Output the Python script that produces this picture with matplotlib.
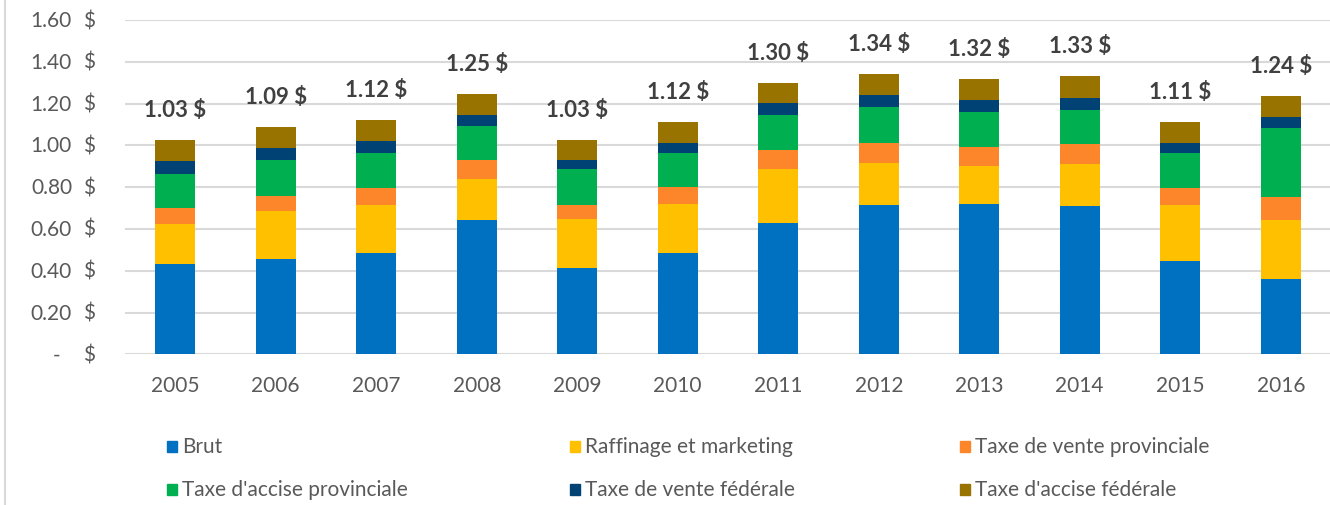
import matplotlib
matplotlib.use("Agg")
import matplotlib.pyplot as plt
import matplotlib.transforms as mtransforms
from matplotlib.patches import Rectangle
from matplotlib.lines import Line2D
import numpy as np

plt.rcParams['font.family'] = ['Lato', 'DejaVu Sans']

# data ($ per litre)
years = ['2005', '2006', '2007', '2008', '2009', '2010',
         '2011', '2012', '2013', '2014', '2015', '2016']
brut = [0.430, 0.457, 0.485, 0.643, 0.414, 0.483, 0.627, 0.716, 0.721, 0.710, 0.446, 0.362]
raffinage = [0.195, 0.229, 0.229, 0.196, 0.233, 0.238, 0.260, 0.201, 0.180, 0.201, 0.268, 0.281]
taxe_vente_prov = [0.075, 0.071, 0.082, 0.089, 0.069, 0.079, 0.089, 0.095, 0.091, 0.095, 0.082, 0.111]
taxe_accise_prov = [0.164, 0.171, 0.169, 0.164, 0.171, 0.165, 0.169, 0.170, 0.167, 0.164, 0.169, 0.327]
taxe_vente_fed = [0.062, 0.058, 0.057, 0.053, 0.041, 0.047, 0.057, 0.057, 0.059, 0.058, 0.047, 0.053]
taxe_accise_fed = [0.100, 0.102, 0.100, 0.099, 0.099, 0.101, 0.095, 0.101, 0.101, 0.102, 0.101, 0.100]
totals = [1.03, 1.09, 1.12, 1.25, 1.03, 1.12, 1.30, 1.34, 1.32, 1.33, 1.11, 1.24]

series = [
    ("Brut", brut, "#0070C0"),
    ("Raffinage et marketing", raffinage, "#FFC000"),
    ("Taxe de vente provinciale", taxe_vente_prov, "#FD862A"),
    ("Taxe d'accise provinciale", taxe_accise_prov, "#00B050"),
    ("Taxe de vente fédérale", taxe_vente_fed, "#004274"),
    ("Taxe d'accise fédérale", taxe_accise_fed, "#997300"),
]

W, H = 1330, 506
fig = plt.figure(figsize=(W / 100, H / 100), dpi=100)
ax = fig.add_axes([125 / W, 150.7 / H, (1331 - 125) / W, (355.3 - 21) / H])

x = np.arange(len(years))
bottom = np.zeros(len(years))
for name, vals, col in series:
    ax.bar(x, vals, 0.4, bottom=bottom, color=col, zorder=3)
    bottom += np.array(vals)

# total labels above each bar
for i, t in enumerate(totals):
    ax.annotate(f"{t:.2f} $", (x[i], bottom[i]), xytext=(0, 22),
                textcoords='offset points', ha='center', va='center',
                fontsize=16, fontweight='bold', color='#404040')

ax.set_xlim(-0.5, len(years) - 0.5)
ax.set_ylim(0, 1.6)
yticks = np.arange(0, 1.61, 0.2)
ax.set_yticks(yticks)
ax.set_yticklabels([])
ax.yaxis.grid(True, color='#D9D9D9', linewidth=1.5, zorder=0)
ax.set_axisbelow(True)
for s in ax.spines.values():
    s.set_visible(False)
ax.tick_params(axis='y', length=0)
ax.set_xticks(x, years)
ax.tick_params(axis='x', length=0, pad=15, labelsize=15, labelcolor='#595959')

# accounting-style y labels: number right-aligned, "$" in its own column
tr = mtransforms.blended_transform_factory(fig.transFigure, ax.transData)
for v in yticks:
    if v == 0:
        fig.text(57 / W, v, "-", transform=tr, ha='center', va='center',
                 fontsize=15, color='#595959')
    else:
        fig.text(72 / W, v, f"{v:.2f}", transform=tr, ha='right', va='center',
                 fontsize=15, color='#595959')
    fig.text(83 / W, v, "$", transform=tr, ha='left', va='center',
             fontsize=15, color='#595959')

# legend, 3 columns x 2 rows
cols_x = [167, 570, 960]
rows_y = [447, 490]
for k, (name, vals, col) in enumerate(series):
    px = cols_x[k % 3]
    py = rows_y[k // 3]
    fig.add_artist(Rectangle((px / W, 1 - (py + 5.5) / H), 10 / W, 11 / H,
                             transform=fig.transFigure, color=col))
    fig.text((px + 15) / W, 1 - py / H, name, ha='left', va='center',
             fontsize=15, color='#595959')

# chart frame line on the left
fig.add_artist(Line2D([5 / W, 5 / W], [0, 1], transform=fig.transFigure,
                      color='#D9D9D9', linewidth=1.5))

fig.savefig("out.png", dpi=100)
